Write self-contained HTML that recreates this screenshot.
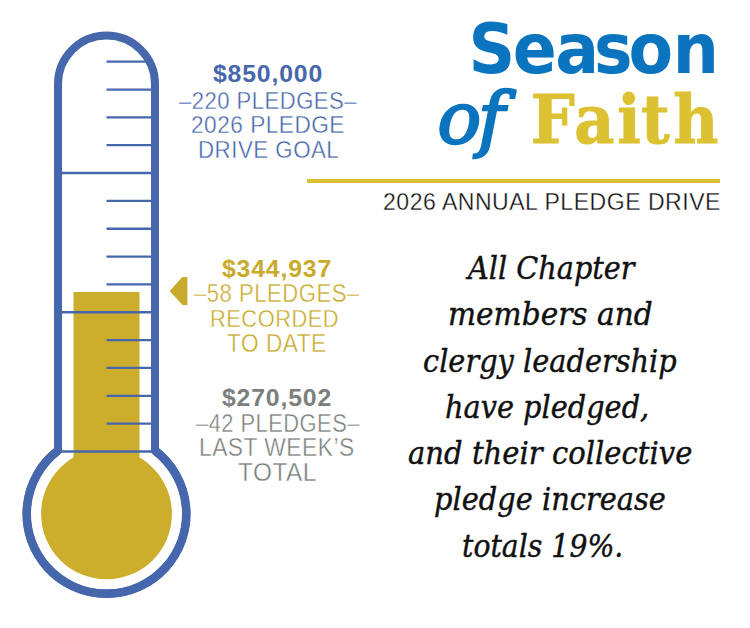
<!DOCTYPE html>
<html><head><meta charset="utf-8"><title>Season of Faith</title>
<style>
html,body{margin:0;padding:0;background:#fff;}
body{width:750px;height:628px;position:relative;overflow:hidden;}
.therm{position:absolute;left:0;top:0;}
.ln{position:absolute;width:400px;text-align:center;white-space:pre;line-height:1;}
.amt{font-family:"Liberation Sans",sans-serif;font-weight:700;font-size:24.8px;letter-spacing:0.85px;}
.b1{color:#4767ac;}
.b2{color:#c9aa2c;}
.b3{color:#7b807c;}
.lt{position:absolute;line-height:1;white-space:pre;transform-origin:0 0;}
.rule{position:absolute;left:307px;top:179px;width:413px;height:4px;background:#dcc233;}
</style></head><body>
<svg class="therm" width="750" height="628" viewBox="0 0 750 628">
<rect x="73.5" y="292" width="66" height="230" fill="#ccad2c"/>
<circle cx="106.5" cy="513.9" r="65.4" fill="#ccad2c"/>
<line x1="106.5" y1="61.70" x2="153" y2="61.70" stroke="#4767ac" stroke-width="2.3"/>
<line x1="106.5" y1="89.54" x2="153" y2="89.54" stroke="#4767ac" stroke-width="2.3"/>
<line x1="106.5" y1="117.38" x2="153" y2="117.38" stroke="#4767ac" stroke-width="2.3"/>
<line x1="106.5" y1="145.22" x2="153" y2="145.22" stroke="#4767ac" stroke-width="2.3"/>
<line x1="58" y1="173.06" x2="155" y2="173.06" stroke="#4767ac" stroke-width="2.5"/>
<line x1="106.5" y1="200.90" x2="153" y2="200.90" stroke="#4767ac" stroke-width="2.3"/>
<line x1="106.5" y1="228.74" x2="153" y2="228.74" stroke="#4767ac" stroke-width="2.3"/>
<line x1="106.5" y1="256.58" x2="153" y2="256.58" stroke="#4767ac" stroke-width="2.3"/>
<line x1="106.5" y1="284.42" x2="153" y2="284.42" stroke="#4767ac" stroke-width="2.3"/>
<line x1="58" y1="312.26" x2="155" y2="312.26" stroke="#4767ac" stroke-width="2.5"/>
<line x1="106.5" y1="340.10" x2="153" y2="340.10" stroke="#4767ac" stroke-width="2.3"/>
<line x1="106.5" y1="367.94" x2="153" y2="367.94" stroke="#4767ac" stroke-width="2.3"/>
<line x1="106.5" y1="395.78" x2="153" y2="395.78" stroke="#4767ac" stroke-width="2.3"/>
<line x1="106.5" y1="423.62" x2="153" y2="423.62" stroke="#4767ac" stroke-width="2.3"/>
<line x1="58" y1="451.46" x2="155" y2="451.46" stroke="#4767ac" stroke-width="2.5"/>
<path d="M58 450.5 L58 84 A48.5 48.5 0 0 1 155 84 L155 450.5 A79.8 79.8 0 1 1 58 450.5 Z" fill="none" stroke="#4767ac" stroke-width="8" stroke-linejoin="miter"/>
<path d="M155 450.5 A79.8 79.8 0 1 1 58 450.5" fill="none" stroke="#4767ac" stroke-width="8.6"/>
<polygon points="169.6,291 182.3,276.9 187.4,276.9 187.4,304.9 182.6,304.9" fill="#c9aa2c"/>
</svg>
<div class="lt" style="left:179.37px;top:88.67px;transform:scale(0.9677,1.0530);color:#4767ac;font-family:'Liberation Sans',sans-serif;font-size:22.8px;letter-spacing:0.5px;-webkit-text-stroke:0.35px #fff;">–220 PLEDGES–</div>
<div class="lt" style="left:191.46px;top:112.64px;transform:scale(0.9931,1.0530);color:#4767ac;font-family:'Liberation Sans',sans-serif;font-size:22.8px;letter-spacing:0.5px;-webkit-text-stroke:0.35px #fff;">2026 PLEDGE</div>
<div class="lt" style="left:197.94px;top:137.59px;transform:scale(0.9786,1.0695);color:#4767ac;font-family:'Liberation Sans',sans-serif;font-size:22.8px;letter-spacing:0.5px;-webkit-text-stroke:0.35px #fff;">DRIVE GOAL</div>
<div class="lt" style="left:194.43px;top:280.73px;transform:scale(0.9702,1.1148);color:#c9aa2c;font-family:'Liberation Sans',sans-serif;font-size:22.8px;letter-spacing:0.5px;-webkit-text-stroke:0.35px #fff;">–58 PLEDGES–</div>
<div class="lt" style="left:209.77px;top:306.64px;transform:scale(0.9598,1.0530);color:#c9aa2c;font-family:'Liberation Sans',sans-serif;font-size:22.8px;letter-spacing:0.5px;-webkit-text-stroke:0.35px #fff;">RECORDED</div>
<div class="lt" style="left:227.08px;top:330.70px;transform:scale(0.9956,1.1076);color:#c9aa2c;font-family:'Liberation Sans',sans-serif;font-size:22.8px;letter-spacing:0.5px;-webkit-text-stroke:0.35px #fff;">TO DATE</div>
<div class="lt" style="left:195.53px;top:410.54px;transform:scale(0.9596,1.0972);color:#7b807c;font-family:'Liberation Sans',sans-serif;font-size:22.8px;letter-spacing:0.5px;-webkit-text-stroke:0.35px #fff;">–42 PLEDGES–</div>
<div class="lt" style="left:199.25px;top:434.54px;transform:scale(0.9990,1.1148);color:#7b807c;font-family:'Liberation Sans',sans-serif;font-size:22.8px;letter-spacing:0.5px;-webkit-text-stroke:0.35px #fff;">LAST WEEK’S</div>
<div class="lt" style="left:238.33px;top:459.51px;transform:scale(1.0684,1.1148);color:#7b807c;font-family:'Liberation Sans',sans-serif;font-size:22.8px;letter-spacing:0.5px;-webkit-text-stroke:0.35px #fff;">TOTAL</div>
<div class="ln amt b1" style="left:68px;top:62.3px;">$850,000</div>
<div class="ln amt b2" style="left:77px;top:256.7px;">$344,937</div>
<div class="ln amt b3" style="left:77px;top:385.7px;">$270,502</div>
<svg class="therm" width="750" height="628" viewBox="0 0 750 628"><text x="487.37 533.54 577.69 618.03 653.83 700.08" y="0" transform="translate(0.00,72.78) scale(0.9611,1.0227)" fill="#0b74bf" font-family="DejaVu Sans, sans-serif" font-weight="700" font-size="67.5">Season</text><text x="446.71 487.99" y="0" transform="translate(0.00,143.44) scale(0.9795,0.9606)" fill="#0b74bf" font-family="DejaVu Serif, serif" font-style="italic" font-size="74" stroke="#0b74bf" stroke-width="2.5">of</text><text x="581.78 629.44 676.59 702.68 738.09" y="0" transform="translate(0.00,142.91) scale(0.9122,1.0024)" fill="#dcc233" font-family="DejaVu Serif, serif" font-weight="700" font-size="68" stroke="#dcc233" stroke-width="1">Faith</text></svg>
<div class="rule"></div>
<div class="lt" style="left:382.80px;top:189.59px;transform:scale(1.0069,1.0722);color:#111;font-family:'Liberation Sans',sans-serif;font-size:22.9px;letter-spacing:0.5px;-webkit-text-stroke:0.3px #fff;">2026 ANNUAL PLEDGE DRIVE</div>
<div class="lt" style="left:468.10px;top:255.00px;transform:scale(0.9908,1.1);transform-origin:0 24.5px;color:#111;font-family:'DejaVu Serif',serif;font-style:italic;font-size:29px;color:#111;-webkit-text-stroke:0.4px #111;">All Chapter</div>
<div class="lt" style="left:448.28px;top:301.25px;transform:scale(1.0214,1.1);transform-origin:0 24.5px;color:#111;font-family:'DejaVu Serif',serif;font-style:italic;font-size:29px;color:#111;-webkit-text-stroke:0.4px #111;">members and</div>
<div class="lt" style="left:423.02px;top:347.50px;transform:scale(0.9934,1.1);transform-origin:0 24.5px;color:#111;font-family:'DejaVu Serif',serif;font-style:italic;font-size:29px;color:#111;-webkit-text-stroke:0.4px #111;">clergy leadership</div>
<div class="lt" style="left:444.84px;top:393.75px;transform:scale(0.9923,1.1);transform-origin:0 24.5px;color:#111;font-family:'DejaVu Serif',serif;font-style:italic;font-size:29px;color:#111;-webkit-text-stroke:0.4px #111;">have pledged,</div>
<div class="lt" style="left:408.22px;top:440.00px;transform:scale(1.0023,1.1);transform-origin:0 24.5px;color:#111;font-family:'DejaVu Serif',serif;font-style:italic;font-size:29px;color:#111;-webkit-text-stroke:0.4px #111;">and their collective</div>
<div class="lt" style="left:433.66px;top:486.25px;transform:scale(0.9948,1.1);transform-origin:0 24.5px;color:#111;font-family:'DejaVu Serif',serif;font-style:italic;font-size:29px;color:#111;-webkit-text-stroke:0.4px #111;">pledge increase</div>
<div class="lt" style="left:461.55px;top:532.50px;transform:scale(0.9774,1.1);transform-origin:0 24.5px;color:#111;font-family:'DejaVu Serif',serif;font-style:italic;font-size:29px;color:#111;-webkit-text-stroke:0.4px #111;">totals 19%.</div>
</body></html>
